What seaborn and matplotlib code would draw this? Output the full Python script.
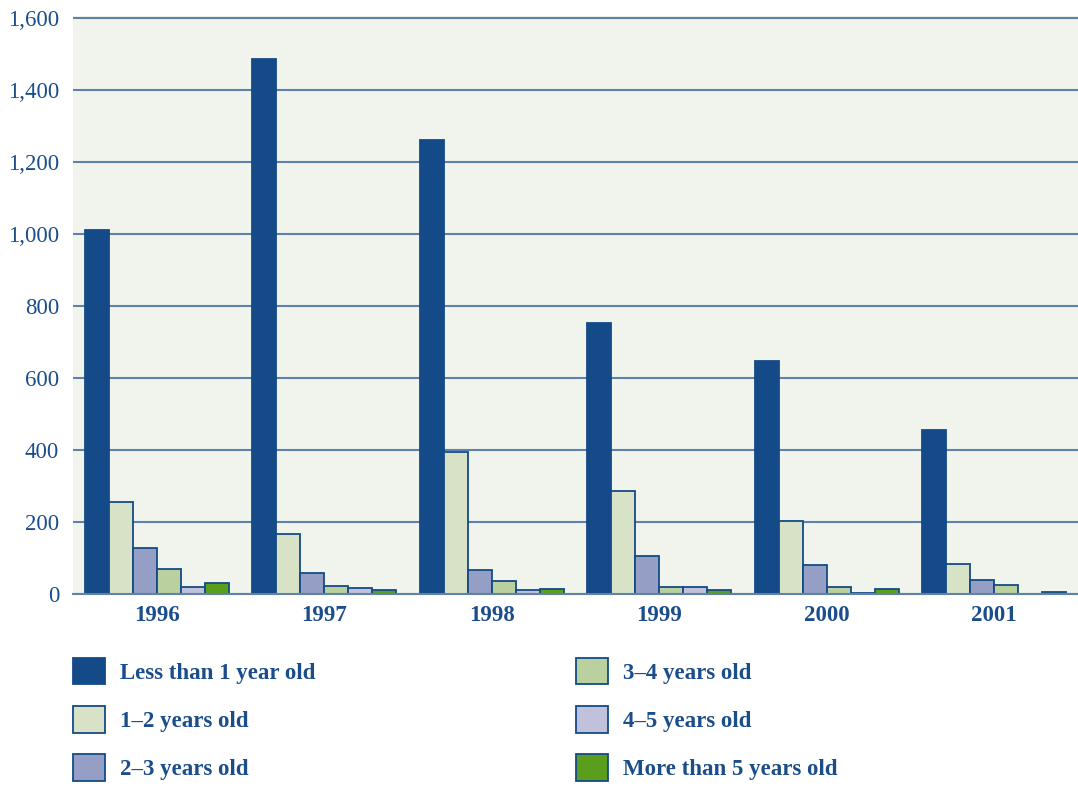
import pandas as pd
import seaborn as sns
import matplotlib.pyplot as plt
from matplotlib.patches import Patch

years = ["1996", "1997", "1998", "1999", "2000", "2001"]
groups = ["Less than 1 year old", "1\u20132 years old", "2\u20133 years old",
          "3\u20134 years old", "4\u20135 years old", "More than 5 years old"]

less_1 = [1011, 1486, 1261, 753, 647, 456]
age_1_2 = [256, 166, 394, 287, 204, 84]
age_2_3 = [127, 57, 68, 106, 80, 38]
age_3_4 = [69, 21, 35, 20, 20, 26]
age_4_5 = [20, 18, 10, 20, 4, 1]
more_5 = [30, 10, 14, 10, 15, 5]

colors = ["#144A87", "#D7E2C6", "#959EC4", "#BAD09E", "#C0C1DC", "#5A9E1E"]
navy = "#144A87"
text_col = "#1B4D8A"
grid_col = "#5E82AA"

series = [less_1, age_1_2, age_2_3, age_3_4, age_4_5, more_5]
rows = []
for g, vals in zip(groups, series):
    for y, v in zip(years, vals):
        rows.append({"Year": y, "Age": g, "Count": v})
df = pd.DataFrame(rows)

sns.set_style("white")
plt.rcParams["font.family"] = ["Liberation Serif", "DejaVu Serif"]

fig = plt.figure(figsize=(10.78, 7.87), dpi=100)
ax = fig.add_axes([73 / 1078, 1 - 594 / 787, 1005 / 1078, 578 / 787])
ax.set_facecolor("#F1F4EC")

sns.barplot(data=df, x="Year", y="Count", hue="Age", order=years, hue_order=groups,
            palette=colors, saturation=1, width=0.86, legend=False, ax=ax,
            edgecolor=navy, linewidth=1.3)

ax.set_xlim(-0.5, 5.5)
ax.set_ylim(0, 1605)
ax.set_yticks(range(0, 1601, 200))
ax.set_yticklabels([f"{v:,}" for v in range(0, 1601, 200)], fontsize=16.5, color=text_col)
ax.set_xticks(range(len(years)))
ax.set_xticklabels(years, fontsize=16.5, fontweight="bold", color=text_col)
ax.tick_params(axis="y", length=0, pad=10)
ax.tick_params(axis="x", length=0, pad=8)
ax.yaxis.grid(True, color=grid_col, linewidth=1.5)
ax.set_axisbelow(True)
for s in ["top", "left", "right"]:
    ax.spines[s].set_visible(False)
ax.spines["bottom"].set_color(grid_col)
ax.spines["bottom"].set_linewidth(1.5)
ax.set_xlabel("")
ax.set_ylabel("")

handles = [Patch(facecolor=c, edgecolor=navy, linewidth=1.3) for c in colors]
for i, x0 in enumerate([73 / 1078, 576 / 1078]):
    leg = fig.legend(handles[3 * i:3 * i + 3], groups[3 * i:3 * i + 3],
                     loc="upper left", bbox_to_anchor=(x0, 1 - 658 / 787),
                     frameon=False, borderpad=0, borderaxespad=0,
                     handlelength=1.4, handleheight=1.4, handletextpad=0.65,
                     labelspacing=0.95, prop={"size": 16.5, "weight": "bold"})
    for t in leg.get_texts():
        t.set_color(text_col)

fig.savefig("out.png", dpi=100, facecolor="white")
